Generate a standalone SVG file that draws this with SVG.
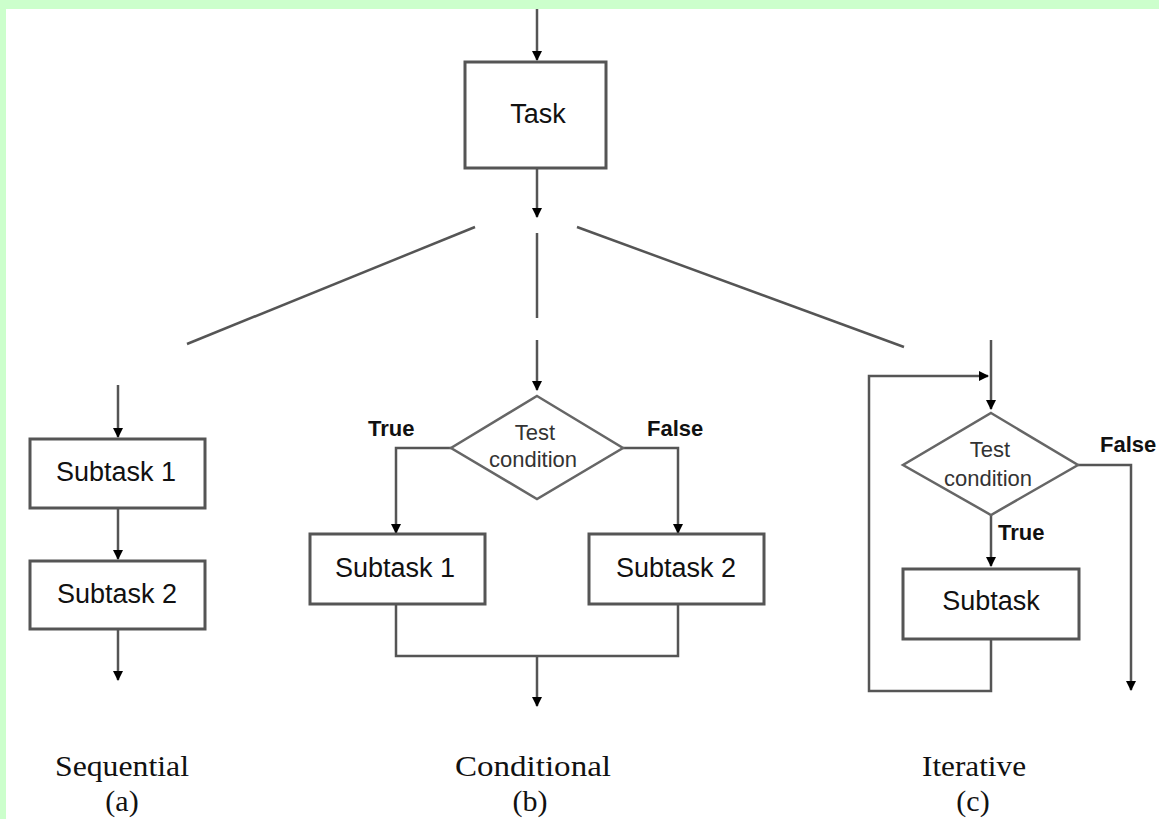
<svg xmlns="http://www.w3.org/2000/svg" width="1159" height="819" viewBox="0 0 1159 819">
<defs>
<marker id="ah" markerUnits="userSpaceOnUse" markerWidth="10" markerHeight="12" refX="9" refY="5" orient="auto">
<path d="M0,0 L10,5 L0,10 Z" fill="#000"/>
</marker>
<style>
.ln{fill:none;stroke:#555;stroke-width:2.5}
.bx{fill:#fff;stroke:#555;stroke-width:3}
.dm{fill:#fff;stroke:#666;stroke-width:2.5}
.t{font-family:"Liberation Sans",Arial,sans-serif;font-size:27px;fill:#111;text-anchor:middle}
.d{font-family:"Liberation Sans",Arial,sans-serif;font-size:22px;fill:#333;text-anchor:middle}
.l{font-family:"Liberation Sans",Arial,sans-serif;font-size:22px;font-weight:bold;fill:#111}
.c{font-family:"Liberation Serif","Times New Roman",serif;font-size:30px;fill:#111;text-anchor:middle}
</style>
</defs>
<rect x="0" y="0" width="1159" height="819" fill="#ccffcc"/>
<rect x="6" y="9" width="1153" height="810" fill="#fff"/>

<g id="connectors">
<line class="ln" x1="537" y1="9" x2="537" y2="60" marker-end="url(#ah)"/>
<line class="ln" x1="537" y1="168" x2="537" y2="217" marker-end="url(#ah)"/>
<line class="ln" x1="475" y1="227" x2="187" y2="344"/>
<line class="ln" x1="537" y1="233" x2="537" y2="318"/>
<line class="ln" x1="577" y1="227" x2="904" y2="347"/>
<line class="ln" x1="118" y1="385" x2="118" y2="437" marker-end="url(#ah)"/>
<line class="ln" x1="118" y1="508" x2="118" y2="559" marker-end="url(#ah)"/>
<line class="ln" x1="118" y1="629" x2="118" y2="680" marker-end="url(#ah)"/>
<line class="ln" x1="537" y1="340" x2="537" y2="390" marker-end="url(#ah)"/>
<polyline class="ln" points="451,448 396,448 396,533" marker-end="url(#ah)"/>
<polyline class="ln" points="623,448 678,448 678,533" marker-end="url(#ah)"/>
<polyline class="ln" points="396,604 396,656 678,656 678,604"/>
<line class="ln" x1="537" y1="656" x2="537" y2="706" marker-end="url(#ah)"/>
<line class="ln" x1="991" y1="340" x2="991" y2="409" marker-end="url(#ah)"/>
<polyline class="ln" points="991,640 991,691 869,691 869,376 988,376" marker-end="url(#ah)"/>
<line class="ln" x1="991" y1="515" x2="991" y2="566" marker-end="url(#ah)"/>
<polyline class="ln" points="1078,465 1131,465 1131,690" marker-end="url(#ah)"/>
</g>

<g id="task">
<rect class="bx" x="465" y="62" width="141" height="106"/>
<text class="t" x="538" y="123">Task</text>
</g>

<g id="seq-subtask1">
<rect class="bx" x="30" y="439" width="175" height="69"/>
<text class="t" x="116" y="481">Subtask 1</text>
</g>
<g id="seq-subtask2">
<rect class="bx" x="30" y="561" width="175" height="68"/>
<text class="t" x="117" y="603">Subtask 2</text>
</g>

<g id="cond-test">
<polygon class="dm" points="537,396 623,448 537,499 451,448"/>
<text class="d" x="535" y="440">Test</text>
<text class="d" x="533" y="467">condition</text>
</g>
<g id="cond-subtask1">
<rect class="bx" x="310" y="534" width="175" height="70"/>
<text class="t" x="395" y="577">Subtask 1</text>
</g>
<g id="cond-subtask2">
<rect class="bx" x="589" y="534" width="175" height="70"/>
<text class="t" x="676" y="577">Subtask 2</text>
</g>

<g id="iter-test">
<polygon class="dm" points="991,413 1078,465 991,515 903,465"/>
<text class="d" x="990" y="457">Test</text>
<text class="d" x="988" y="486">condition</text>
</g>
<g id="iter-subtask">
<rect class="bx" x="903" y="569" width="176" height="70"/>
<text class="t" x="991" y="610">Subtask</text>
</g>

<g id="labels">
<text class="l" x="368" y="436">True</text>
<text class="l" x="647" y="436">False</text>
<text class="l" x="1100" y="452">False</text>
<text class="l" x="998" y="540">True</text>
</g>

<g id="captions">
<text class="c" x="122" y="776" textLength="134" lengthAdjust="spacingAndGlyphs">Sequential</text>
<text class="c" x="122" y="811">(a)</text>
<text class="c" x="533" y="776" textLength="156" lengthAdjust="spacingAndGlyphs">Conditional</text>
<text class="c" x="530" y="811">(b)</text>
<text class="c" x="974" y="776" textLength="104" lengthAdjust="spacingAndGlyphs">Iterative</text>
<text class="c" x="973" y="811">(c)</text>
</g>
</svg>
